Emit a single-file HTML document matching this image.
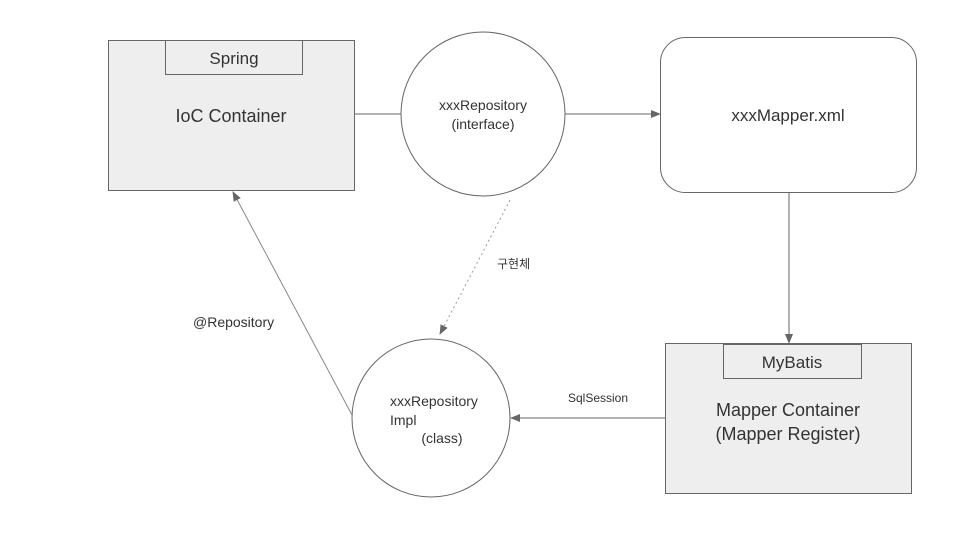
<!DOCTYPE html>
<html><head><meta charset="utf-8"><style>body{margin:0;background:#fff}</style></head><body>
<svg width="953" height="535" xmlns="http://www.w3.org/2000/svg" font-family="'Liberation Sans','Noto Sans CJK KR',sans-serif">
<defs><marker id="a" markerWidth="10" markerHeight="8" refX="9" refY="4" orient="auto" markerUnits="userSpaceOnUse"><path d="M0,0L10,4L0,8z" fill="#666"/></marker></defs>
<rect x="108.5" y="40.5" width="246" height="150" fill="#eee" stroke="#666"/>
<rect x="165.5" y="40.5" width="137" height="34" fill="#eee" stroke="#666"/>
<text x="234" y="64" font-size="17" text-anchor="middle" fill="#333">Spring</text>
<text x="231" y="122" font-size="18" text-anchor="middle" fill="#333">IoC Container</text>
<line x1="355" y1="114" x2="401" y2="114" stroke="#666"/>
<circle cx="483" cy="114" r="82" fill="#fff" stroke="#666"/>
<text x="483" y="110" font-size="14" text-anchor="middle" fill="#333">xxxRepository</text>
<text x="483" y="129" font-size="14" text-anchor="middle" fill="#333">(interface)</text>
<line x1="565" y1="114" x2="660" y2="114" stroke="#666" marker-end="url(#a)"/>
<rect x="660.5" y="37.5" width="256" height="155" rx="25" fill="#fff" stroke="#666"/>
<text x="788" y="121" font-size="17" text-anchor="middle" fill="#333">xxxMapper.xml</text>
<line x1="789" y1="193" x2="789" y2="343" stroke="#666" marker-end="url(#a)"/>
<rect x="665.5" y="343.5" width="246" height="150" fill="#eee" stroke="#666"/>
<rect x="723.5" y="344.5" width="138" height="34" fill="#eee" stroke="#666"/>
<text x="792" y="368" font-size="17" text-anchor="middle" fill="#333">MyBatis</text>
<text x="788" y="416" font-size="18" text-anchor="middle" fill="#333">Mapper Container</text>
<text x="788" y="440" font-size="18" text-anchor="middle" fill="#333">(Mapper Register)</text>
<line x1="665" y1="418" x2="511" y2="418" stroke="#666" marker-end="url(#a)"/>
<text x="598" y="402" font-size="12" text-anchor="middle" fill="#333">SqlSession</text>
<circle cx="431" cy="418" r="79" fill="#fff" stroke="#666"/>
<text x="390" y="406" font-size="14" fill="#333">xxxRepository</text>
<text x="390" y="425" font-size="14" fill="#333">Impl</text>
<text x="442" y="443" font-size="14" text-anchor="middle" fill="#333">(class)</text>
<line x1="510" y1="200" x2="440" y2="334" stroke="#999" stroke-dasharray="2,3" marker-end="url(#a)"/>
<text x="497" y="268" font-size="12" fill="#333">구현체</text>
<line x1="352" y1="415" x2="233" y2="192" stroke="#888" marker-end="url(#a)"/>
<text x="193" y="327" font-size="14" fill="#333">@Repository</text>
</svg>
</body></html>
